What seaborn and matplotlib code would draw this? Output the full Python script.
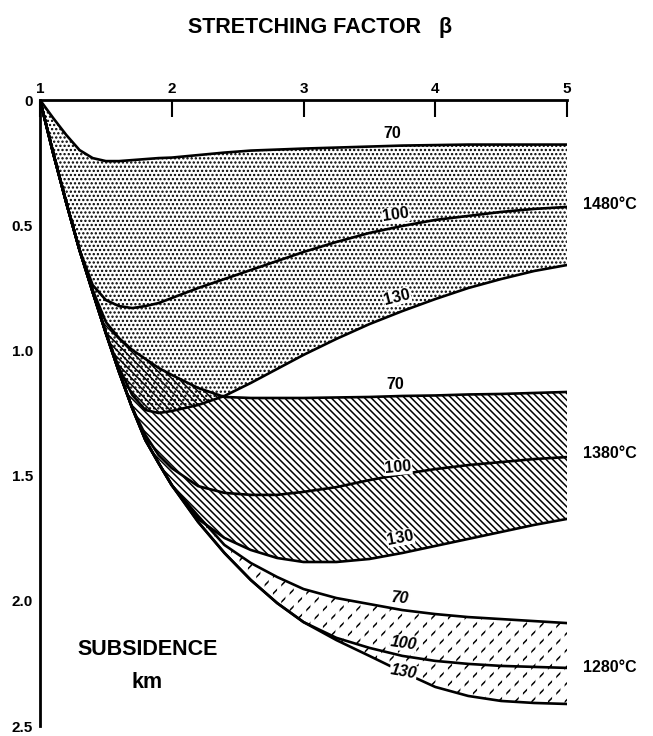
import matplotlib
matplotlib.use("Agg")
import matplotlib.pyplot as plt
import seaborn as sns

# stretching factor grid (shared by every curve)
beta = [1.0, 1.1, 1.2, 1.3, 1.4, 1.5, 1.6, 1.7, 1.8, 1.9, 2.0, 2.2, 2.4, 2.6,
        2.8, 3.0, 3.25, 3.5, 3.75, 4.0, 4.25, 4.5, 4.75, 5.0]

# subsidence (km), 70 / 100 / 130 curves for each temperature
s1480_70 = [0, .072, .140, .200, .232, .244, .244, .240, .236, .232, .230, .220,
            .210, .202, .198, .194, .190, .186, .182, .180, .178, .178, .178, .178]
s1480_100 = [0, .212, .411, .599, .739, .799, .823, .831, .823, .811, .791, .751,
             .715, .679, .643, .607, .567, .531, .503, .479, .463, .447, .435, .427]
s1480_130 = [0, .212, .411, .599, .767, .931, 1.070, 1.178, 1.238, 1.250, 1.242, 1.218,
             1.182, 1.130, 1.074, 1.018, .954, .895, .843, .795, .751, .715, .683, .659]

s1380_70 = [0, .212, .411, .599, .759, .887, .951, .998, 1.034, 1.070, 1.098, 1.150,
            1.186, 1.190, 1.190, 1.190, 1.188, 1.186, 1.182, 1.180, 1.176, 1.174, 1.170, 1.166]
s1380_100 = [0, .212, .411, .599, .767, .931, 1.086, 1.230, 1.338, 1.418, 1.470, 1.542,
             1.569, 1.577, 1.577, 1.565, 1.546, 1.518, 1.494, 1.474, 1.458, 1.446, 1.434, 1.426]
s1380_130 = [0, .212, .411, .599, .767, .931, 1.086, 1.230, 1.358, 1.450, 1.538, 1.673,
             1.749, 1.797, 1.829, 1.845, 1.845, 1.833, 1.809, 1.781, 1.753, 1.725, 1.697, 1.673]

s1280_70 = [0, .212, .411, .599, .767, .931, 1.086, 1.230, 1.358, 1.450, 1.538, 1.661,
            1.777, 1.849, 1.905, 1.953, 1.989, 2.013, 2.037, 2.053, 2.065, 2.073, 2.081, 2.089]
s1280_100 = [0, .212, .411, .599, .767, .931, 1.086, 1.230, 1.358, 1.450, 1.538, 1.685,
             1.809, 1.917, 2.009, 2.085, 2.148, 2.188, 2.220, 2.240, 2.252, 2.260, 2.264, 2.268]
s1280_130 = [0, .212, .411, .599, .767, .931, 1.086, 1.230, 1.358, 1.450, 1.538, 1.685,
             1.809, 1.917, 2.009, 2.085, 2.157, 2.220, 2.284, 2.344, 2.380, 2.400, 2.408, 2.412]

x_ticks = [1, 2, 3, 4, 5]
y_ticks = [0, 0.5, 1.0, 1.5, 2.0, 2.5]
y_tick_labels = ['0', '0.5', '1.0', '1.5', '2.0', '2.5']
temps = ['1480°C', '1380°C', '1280°C']
curve_names = ['70', '100', '130']

sns.set_theme(style='white')
plt.rcParams['font.family'] = ['Liberation Sans', 'DejaVu Sans']
plt.rcParams['font.weight'] = 'bold'
plt.rcParams['text.color'] = 'black'
plt.rcParams['hatch.color'] = 'black'
plt.rcParams['hatch.linewidth'] = 1.1

fig = plt.figure(figsize=(6.53, 7.36), dpi=100)
ax = fig.add_axes([40 / 653, 1 - 726 / 736, 527 / 653, 626 / 736])

# shaded bands
ax.fill_between(beta, s1480_70, s1480_130, facecolor='none', edgecolor='black',
                hatch='....', linewidth=0)
ax.fill_between(beta, s1380_70, s1380_130, facecolor='none', edgecolor='black',
                hatch='\\\\\\\\\\', linewidth=0)
ax.fill_between(beta, s1280_70, s1280_130, facecolor='none', edgecolor='black',
                hatch='//', linewidth=0)
# break the 1280 hatch into dashes
brk = ax.fill_between(beta, s1280_70, s1280_130, facecolor='none', edgecolor='white',
                      hatch='||', linewidth=0)
if hasattr(brk, 'set_hatch_linewidth'):
    brk.set_hatch_linewidth(3.0)

curves = [s1480_70, s1480_100, s1480_130, s1380_70, s1380_100, s1380_130,
          s1280_70, s1280_100, s1280_130]
for c in curves:
    sns.lineplot(x=beta, y=c, ax=ax, color='black', linewidth=1.9)

# curve labels (placed just right of beta = 3.7)
lab_pos = [
    (3.67, 0.132, 0), (3.70, 0.459, 8), (3.71, 0.787, 14),
    (3.70, 1.138, 0), (3.72, 1.466, 5), (3.735, 1.749, 11),
    (3.735, 1.989, -5), (3.758, 2.169, -8), (3.758, 2.284, -10),
]
for i, (bx, by, rot) in enumerate(lab_pos):
    name = curve_names[i % 3]
    style = 'italic' if i >= 6 else 'normal'
    ax.text(bx, by, name, ha='center', va='center', fontsize=11.5, rotation=rot,
            style=style, rotation_mode='anchor', color='black',
            bbox=dict(facecolor='white', edgecolor='none', pad=0.4))

temp_y = [0.419, 1.41, 2.268]
for t, ty in zip(temps, temp_y):
    ax.text(5.12, ty, t, ha='left', va='center', fontsize=11.5, color='black')

ax.text(1.82, 2.196, 'SUBSIDENCE', ha='center', va='center', fontsize=15.5, color='black')
ax.text(1.81, 2.328, 'km', ha='center', va='center', fontsize=15.5, color='black')

fig.text(320 / 653, 1 - 28 / 736, 'STRETCHING FACTOR   β', ha='center', va='center',
         fontsize=15.5, color='black')

ax.set_xlim(1, 5)
ax.set_ylim(2.5, 0)
ax.xaxis.tick_top()
ax.set_xticks(x_ticks)
ax.set_xticklabels([str(v) for v in x_ticks])
ax.set_yticks(y_ticks)
ax.set_yticklabels(y_tick_labels)
ax.tick_params(axis='x', direction='in', length=12, width=1.5, pad=3, labelsize=11,
               colors='black')
ax.tick_params(axis='y', direction='in', length=10, width=1.5, pad=5, labelsize=11,
               colors='black')
ax.set_xlabel('')
ax.set_ylabel('')
for side in ['right', 'bottom']:
    ax.spines[side].set_visible(False)
for side in ['top', 'left']:
    ax.spines[side].set_linewidth(2)
    ax.spines[side].set_color('black')

fig.savefig('out.png', dpi=100)
